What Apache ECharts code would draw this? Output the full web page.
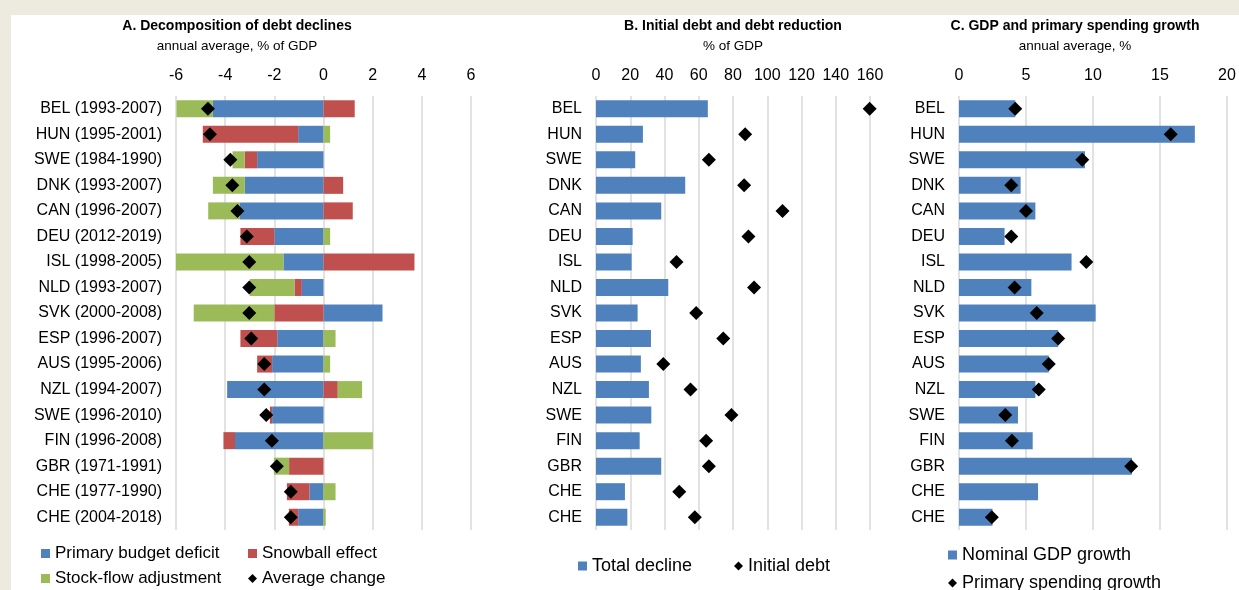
<!DOCTYPE html>
<html>
<head>
<meta charset="utf-8">
<script src="https://cdn.jsdelivr.net/npm/echarts@6/dist/echarts.min.js"></script>
<style>
  body { margin: 0; background: #EDEAE0; }
  #paper { position: absolute; left: 11px; top: 15px; right: 0; bottom: 0; background: #fff; }
  #main { position: absolute; left: 0; top: 0; width: 1239px; height: 590px; }
</style>
</head>
<body>
<div id="paper"></div>
<div id="main"></div>
<script>
// panel A - decomposition of debt declines
const catsA = ['BEL (1993-2007)', 'HUN (1995-2001)', 'SWE (1984-1990)', 'DNK (1993-2007)', 'CAN (1996-2007)',
  'DEU (2012-2019)', 'ISL (1998-2005)', 'NLD (1993-2007)', 'SVK (2000-2008)', 'ESP (1996-2007)',
  'AUS (1995-2006)', 'NZL (1994-2007)', 'SWE (1996-2010)', 'FIN (1996-2008)', 'GBR (1971-1991)',
  'CHE (1977-1990)', 'CHE (2004-2018)']
const primaryDeficit = [-4.5, -1.03, -2.7, -3.2, -3.4, -2.0, -1.63, -0.88, 2.4, -1.88, -2.09, -3.92, -2.09, -3.6, 0, -0.57, -1.03]
const snowball = [1.27, -3.88, -0.51, 0.8, 1.19, -1.38, 3.7, -0.3, -2.0, -1.5, -0.61, 0.58, -0.09, -0.47, -1.4, -0.92, -0.38]
const stockFlow = [-1.48, 0.27, -0.49, -1.3, -1.29, 0.27, -4.42, -1.82, -3.28, 0.49, 0.27, 0.99, 0, 2.01, -0.62, 0.49, 0.09]
const avgChange = [-4.7, -4.62, -3.79, -3.71, -3.5, -3.12, -3.02, -3.02, -3.02, -2.94, -2.41, -2.41, -2.33, -2.1, -1.9, -1.33, -1.33]

// panel B - initial debt and debt reduction
const catsBC = ['BEL', 'HUN', 'SWE', 'DNK', 'CAN', 'DEU', 'ISL', 'NLD', 'SVK', 'ESP', 'AUS', 'NZL', 'SWE', 'FIN', 'GBR', 'CHE', 'CHE']
const totalDecline = [65.3, 27.4, 22.9, 52.1, 38.1, 21.4, 20.8, 42.2, 24.3, 32.1, 26.2, 30.9, 32.3, 25.5, 38.1, 16.9, 18.3]
const initialDebt = [159.8, 87.1, 65.9, 86.5, 108.9, 89.0, 47.0, 92.3, 58.5, 74.3, 39.3, 55.2, 79.1, 64.3, 65.9, 48.6, 57.7]

// panel C - GDP and primary spending growth
const gdpGrowth = [4.2, 17.6, 9.4, 4.6, 5.7, 3.4, 8.4, 5.4, 10.2, 7.4, 6.7, 5.7, 4.4, 5.5, 12.9, 5.9, 2.5]
const spendGrowth = [4.2, 15.8, 9.2, 3.9, 5.0, 3.9, 9.5, 4.15, 5.8, 7.4, 6.7, 5.95, 3.45, 3.95, 12.85, null, 2.45]

const blue = '#4F81BD', red = '#C0504D', green = '#9BBB59'
const font = 'Liberation Sans, Arial, sans-serif'

function pts(arr) {
  return arr.map((v, i) => v == null ? null : [v, i]).filter(d => d)
}

let grids = [
  { left: 176, top: 96, width: 295, height: 434 },
  { left: 596, top: 96, width: 274, height: 434 },
  { left: 959, top: 96, width: 268, height: 434 }
]

function xAx(i, min, max, step) {
  return {
    type: 'value', gridIndex: i, position: 'top', min: min, max: max, interval: step,
    axisLine: { show: false }, axisTick: { show: false },
    axisLabel: { fontSize: 16, color: '#000', fontFamily: font, margin: 12 },
    splitLine: { lineStyle: { color: '#D9D9D9', width: 1.5 } }
  }
}
function yAx(i, cats) {
  return {
    type: 'category', gridIndex: i, data: cats, inverse: true,
    axisLine: { show: false }, axisTick: { show: false },
    axisLabel: { fontSize: 16, color: '#000', fontFamily: font, margin: 14 }
  }
}

function diamond(name, data, xi) {
  return {
    name: name, type: 'scatter', xAxisIndex: xi, yAxisIndex: xi, data: pts(data),
    symbol: 'diamond', symbolSize: 14, itemStyle: { color: '#000', opacity: 1 }, z: 5
  }
}
function bar(name, data, xi, color, stack) {
  return {
    name: name, type: 'bar', xAxisIndex: xi, yAxisIndex: xi, data: data, stack: stack,
    barWidth: 17, itemStyle: { color: color }
  }
}

function legendItem(name, left, top, icon, size) {
  return {
    data: [name], left: left, top: top, itemWidth: 9, itemHeight: 9, icon: icon,
    itemStyle: { opacity: 1 },
    textStyle: { fontSize: size || 17, color: '#000', fontFamily: font }
  }
}

function title(text, sub, x) {
  return {
    text: text, subtext: sub, left: x, top: 14, textAlign: 'center', itemGap: 6,
    textStyle: { fontSize: 14, fontWeight: 'bold', color: '#000', fontFamily: font },
    subtextStyle: { fontSize: 13.5, color: '#000', fontFamily: font }
  }
}

let option = {
  animation: false,
  title: [
    title('A. Decomposition of debt declines', 'annual average, % of GDP', 232),
    title('B. Initial debt and debt reduction', '% of GDP', 728),
    title('C. GDP and primary spending growth', 'annual average, %', 1070)
  ],
  grid: grids,
  xAxis: [xAx(0, -6, 6, 2), xAx(1, 0, 160, 20), xAx(2, 0, 20, 5)],
  yAxis: [yAx(0, catsA), yAx(1, catsBC), yAx(2, catsBC)],
  legend: [
    legendItem('Primary budget deficit', 36, 540, 'rect'),
    legendItem('Snowball effect', 243, 540, 'rect'),
    legendItem('Stock-flow adjustment', 36, 565, 'rect'),
    legendItem('Average change', 243, 565, 'diamond'),
    legendItem('Total decline', 573, 552, 'rect', 18),
    legendItem('Initial debt', 729, 552, 'diamond', 18),
    legendItem('Nominal GDP growth', 943, 541, 'rect', 18),
    legendItem('Primary spending growth', 943, 569, 'diamond', 18)
  ],
  series: [
    bar('Primary budget deficit', primaryDeficit, 0, blue, 'a'),
    bar('Snowball effect', snowball, 0, red, 'a'),
    bar('Stock-flow adjustment', stockFlow, 0, green, 'a'),
    diamond('Average change', avgChange, 0),
    bar('Total decline', totalDecline, 1, blue),
    diamond('Initial debt', initialDebt, 1),
    bar('Nominal GDP growth', gdpGrowth, 2, blue),
    diamond('Primary spending growth', spendGrowth, 2)
  ]
}

let chart = echarts.init(document.getElementById('main'))
chart.setOption(option)
</script>
</body>
</html>
